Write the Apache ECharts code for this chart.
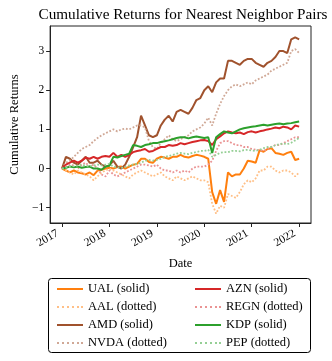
<!DOCTYPE html>
<html>
<head>
<meta charset="utf-8">
<script src="https://cdn.jsdelivr.net/npm/echarts@6/dist/echarts.min.js"></script>
<style>
  html, body { margin: 0; padding: 0; background: #fff; }
  #chart { width: 332px; height: 361px; }
</style>
</head>
<body>
<div id="chart"></div>
<script>
// monthly samples, Jan 2017 .. Jan 2022
const startYear = 2017
const yearTicks = [2017, 2018, 2019, 2020, 2021, 2022]
const returnTicks = [-1, 0, 1, 2, 3]

const ual = [
  0, -0.05, -0.1, -0.05, -0.1, -0.12, -0.15, -0.1, -0.17, -0.05, -0.03, 0.0,
  0.02, 0.0, 0.04, 0.05, 0.0, 0.05, 0.1, 0.12, 0.25, 0.25, 0.17, 0.15,
  0.25, 0.3, 0.28, 0.25, 0.3, 0.3, 0.35, 0.3, 0.28, 0.32, 0.35, 0.33,
  0.3, 0.25, -0.6, -0.9, -0.55, -0.85, -0.1, -0.2, -0.15, -0.15, 0.0, 0.2,
  0.18, 0.15, 0.47, 0.43, 0.5, 0.52, 0.4, 0.38, 0.35, 0.4, 0.43, 0.22,
  0.25
]
const aal = [
  0, -0.05, -0.1, -0.15, -0.05, -0.1, -0.15, -0.2, -0.3, -0.2, -0.1, -0.05,
  0.0, -0.05, -0.1, -0.15, -0.2, -0.25, -0.15, -0.1, -0.05, -0.1, -0.15, -0.2,
  -0.15, -0.1, -0.2, -0.25, -0.3, -0.2, -0.25, -0.3, -0.25, -0.2, -0.25, -0.3,
  -0.3, -0.35, -0.9, -1.15, -0.95, -1.0, -0.65, -0.7, -0.75, -0.6, -0.4, -0.3,
  -0.35, -0.25, -0.05, -0.05, 0.05, 0.05, -0.05, -0.1, -0.05, -0.05, -0.1, -0.2,
  -0.1
]
const amd = [
  0, 0.3, 0.25, 0.15, 0.1, 0.2, 0.3, 0.15, 0.15, 0.2, 0.1, 0.05,
  0.08, 0.2, 0.05, 0.0, 0.1, 0.3, 0.55, 0.8, 1.35, 1.1, 0.85, 0.8,
  0.85, 1.1, 1.25, 1.35, 1.2, 1.45, 1.5, 1.45, 1.4, 1.55, 1.75, 1.8,
  2.0, 2.1, 1.95, 2.2, 2.3, 2.3, 2.75, 2.75, 2.7, 2.65, 2.75, 2.8,
  2.8, 2.7, 2.65, 2.6, 2.7, 2.75, 2.85, 3.0, 3.0, 2.95, 3.3, 3.35,
  3.3
]
const nvda = [
  0, 0.15, 0.2, 0.3, 0.4, 0.5, 0.55, 0.6, 0.7, 0.78, 0.85, 0.9,
  0.95, 1.0, 0.95, 1.0, 1.02, 1.0, 1.05, 1.1, 1.1, 1.05, 0.7, 0.55,
  0.5, 0.65, 0.75, 0.85, 0.75, 0.7, 0.75, 0.8, 0.85, 0.95, 1.0, 1.05,
  1.15, 1.3, 1.1, 1.4, 1.65, 1.85, 2.0, 2.1, 2.15, 2.1, 2.15, 2.2,
  2.15, 2.25, 2.3, 2.35, 2.4, 2.5, 2.55, 2.6, 2.65, 2.7, 3.0, 3.05,
  2.95
]
const azn = [
  0, 0.1, 0.15, 0.2, 0.15, 0.2, 0.28, 0.25, 0.3, 0.25, 0.3, 0.32,
  0.3, 0.4, 0.3, 0.35, 0.3, 0.35, 0.42, 0.45, 0.47, 0.5, 0.43, 0.45,
  0.5, 0.55, 0.55, 0.6, 0.58, 0.6, 0.65, 0.62, 0.65, 0.68, 0.7, 0.72,
  0.73, 0.7, 0.6, 0.75, 0.82, 0.9, 0.95, 0.92, 0.9, 0.92, 0.88, 0.93,
  0.95, 0.92, 0.95, 0.97, 1.0, 1.02, 1.05, 1.03, 1.07, 1.05, 1.0, 1.1,
  1.07
]
const regn = [
  0, 0.05, 0.1, 0.08, 0.0, 0.1, 0.15, 0.05, 0.1, 0.0, -0.15, -0.2,
  -0.05, -0.15, -0.2, -0.15, -0.1, -0.05, 0.0, 0.05, 0.1, 0.1, 0.08, 0.05,
  0.1, 0.0, -0.05, -0.05, -0.1, -0.05, -0.1, -0.05, -0.1, 0.0, 0.05, 0.05,
  0.05, 0.1, 0.2, 0.45, 0.65, 0.7, 0.7, 0.65, 0.6, 0.6, 0.55, 0.55,
  0.5, 0.48, 0.47, 0.45, 0.5, 0.55, 0.6, 0.6, 0.65, 0.7, 0.75, 0.8,
  0.8
]
const kdp = [
  0, 0.02, 0.05, 0.03, 0.05, 0.02, 0.04, 0.05, 0.0, 0.0, -0.03, 0.05,
  0.08, 0.3, 0.28, 0.32, 0.35, 0.38, 0.6, 0.58, 0.55, 0.6, 0.62, 0.65,
  0.65, 0.68, 0.7, 0.72, 0.75, 0.78, 0.8, 0.8, 0.77, 0.8, 0.82, 0.8,
  0.78, 0.8, 0.4, 0.8, 0.88, 0.95, 0.92, 0.9, 0.95, 1.0, 1.03, 1.05,
  1.07, 1.08, 1.1, 1.12, 1.1, 1.12, 1.14, 1.15, 1.13, 1.15, 1.16, 1.18,
  1.2
]
const pep = [
  0, 0.03, 0.05, 0.06, 0.08, 0.1, 0.07, 0.06, 0.08, 0.1, 0.08, 0.1,
  0.12, 0.05, 0.03, 0.02, 0.04, 0.08, 0.1, 0.12, 0.15, 0.2, 0.22, 0.2,
  0.22, 0.25, 0.3, 0.32, 0.35, 0.38, 0.4, 0.38, 0.37, 0.4, 0.42, 0.45,
  0.45, 0.48, 0.3, 0.35, 0.4, 0.42, 0.42, 0.45, 0.45, 0.44, 0.47, 0.48,
  0.46, 0.45, 0.48, 0.52, 0.55, 0.55, 0.6, 0.62, 0.64, 0.62, 0.66, 0.72,
  0.78
]

const serif = 'Liberation Serif'
// legend icons: a bar for solid lines, a row of dots for dotted ones
const solidIcon = 'path://M0,0H26V2H0Z'
const dottedIcon = 'path://M0,0h2v2h-2zM5,0h2v2h-2zM10,0h2v2h-2zM15,0h2v2h-2zM20,0h2v2h-2zM24,0h2v2h-2z'

function toPairs(values) {
  return values.map((v, i) => [startYear + i / 12, v])
}

function makeSeries(name, values, color, dotted) {
  return {
    name: name,
    type: 'line',
    data: toPairs(values),
    showSymbol: false,
    symbol: 'none',
    animation: false,
    lineStyle: {
      color: color,
      width: dotted ? 1.8 : 2,
      type: dotted ? 'dotted' : 'solid'
    },
    itemStyle: { color: color }
  }
}

function legendItems(names) {
  return names.map(n => ({ name: n, icon: n.indexOf('dotted') > 0 ? dottedIcon : solidIcon }))
}

const chart = echarts.init(document.getElementById('chart'), null, { renderer: 'canvas' })

const legendBase = {
  orient: 'vertical',
  top: 277,
  itemWidth: 26, itemHeight: 2, itemGap: 4,
  textStyle: { fontFamily: serif, fontSize: 12.5, color: '#000', lineHeight: 14 }
}

const option = {
  backgroundColor: '#fff',
  animation: false,
  title: {
    text: 'Cumulative Returns for Nearest Neighbor Pairs',
    left: 178,
    textAlign: 'center',
    top: 3,
    textStyle: { fontFamily: serif, fontWeight: 'normal', fontSize: 15.2, color: '#000' }
  },
  grid: {
    left: 47, right: 21, top: 26, bottom: 138,
    show: true, borderColor: '#222', borderWidth: 1
  },
  xAxis: {
    type: 'value',
    min: 2016.75,
    max: 2022.25,
    name: 'Date',
    nameLocation: 'middle',
    nameGap: 34,
    nameTextStyle: { fontFamily: serif, fontSize: 12.5, color: '#000' },
    splitLine: { show: false },
    axisLine: { show: true, onZero: false, lineStyle: { color: '#222', width: 1 } },
    axisTick: { show: true, length: 4, customValues: yearTicks, lineStyle: { color: '#222' } },
    axisLabel: {
      customValues: yearTicks,
      rotate: 30,
      margin: 7,
      padding: [0, 5, 0, 0],
      fontFamily: serif, fontSize: 11.5, color: '#000',
      formatter: v => String(v)
    }
  },
  yAxis: {
    type: 'value',
    min: -1.39,
    max: 3.64,
    name: 'Cumulative Returns',
    nameLocation: 'middle',
    nameGap: 29,
    nameTextStyle: { fontFamily: serif, fontSize: 12.5, color: '#000' },
    splitLine: { show: false },
    axisLine: { show: true, lineStyle: { color: '#222', width: 1 } },
    axisTick: { show: true, length: 4, customValues: returnTicks, lineStyle: { color: '#222' } },
    axisLabel: {
      customValues: returnTicks,
      margin: 6,
      fontFamily: serif, fontSize: 11.5, color: '#000',
      formatter: v => (v < 0 ? '\u2212' + (-v) : String(v))
    }
  },
  legend: [
    Object.assign({ left: 52, data: legendItems(['UAL (solid)', 'AAL (dotted)', 'AMD (solid)', 'NVDA (dotted)']) }, legendBase),
    Object.assign({ left: 190, data: legendItems(['AZN (solid)', 'REGN (dotted)', 'KDP (solid)', 'PEP (dotted)']) }, legendBase)
  ],
  graphic: [{
    type: 'rect',
    shape: { x: 48.5, y: 278.5, width: 262, height: 74, r: 3 },
    style: { fill: 'none', stroke: '#000', lineWidth: 1 },
    silent: true
  }],
  series: [
    makeSeries('UAL (solid)', ual, '#ff7f0e', false),
    makeSeries('AAL (dotted)', aal, '#ffbf86', true),
    makeSeries('AMD (solid)', amd, '#a0522d', false),
    makeSeries('NVDA (dotted)', nvda, '#d0a896', true),
    makeSeries('AZN (solid)', azn, '#d62728', false),
    makeSeries('REGN (dotted)', regn, '#ea9393', true),
    makeSeries('KDP (solid)', kdp, '#2ca02c', false),
    makeSeries('PEP (dotted)', pep, '#95cf95', true)
  ]
}

chart.setOption(option)
</script>
</body>
</html>
